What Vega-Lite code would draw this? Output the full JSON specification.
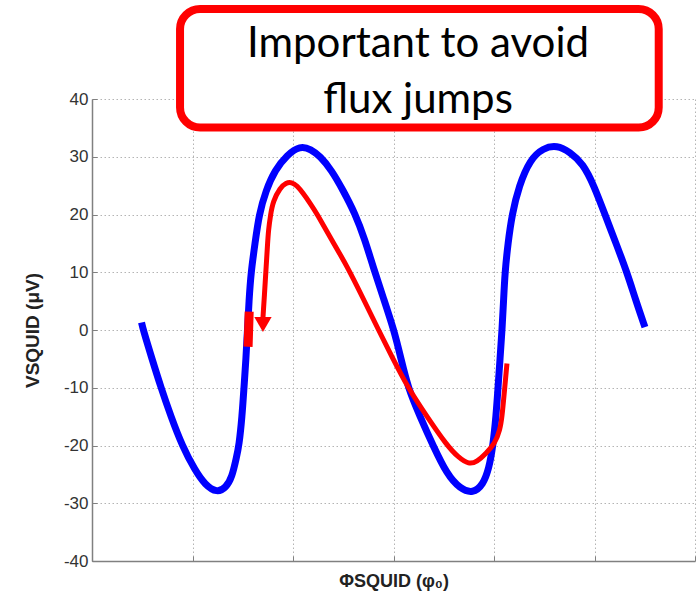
{
  "$schema": "https://vega.github.io/schema/vega-lite/v6.json",
  "width": 603,
  "height": 462,
  "autosize": "none",
  "padding": {"left": 92, "top": 99, "right": 5, "bottom": 39},
  "background": "white",
  "config": {
    "view": {"stroke": null},
    "axis": {
      "grid": true,
      "gridDash": [1.5, 2.5],
      "gridColor": "#b4b4b4",
      "gridWidth": 1,
      "domainColor": "#808080",
      "domainWidth": 1.5,
      "tickColor": "#808080",
      "tickSize": -5,
      "tickWidth": 1,
      "labelFont": "Liberation Sans",
      "labelFontSize": 17,
      "labelColor": "#333333",
      "titleFont": "Liberation Sans",
      "titleFontWeight": "bold",
      "titleColor": "#222222"
    }
  },
  "datasets": {
    "blue": [
      {"x": 0.493, "y": 1.3}, {"x": 0.51, "y": 0}, {"x": 0.597, "y": -5}, {"x": 0.687, "y": -10},
      {"x": 0.786, "y": -15}, {"x": 0.896, "y": -20}, {"x": 1.025, "y": -24.3}, {"x": 1.124, "y": -26.8},
      {"x": 1.244, "y": -28.2}, {"x": 1.333, "y": -27.3}, {"x": 1.393, "y": -25.5}, {"x": 1.438, "y": -22},
      {"x": 1.463, "y": -20}, {"x": 1.493, "y": -15}, {"x": 1.512, "y": -10}, {"x": 1.532, "y": -5},
      {"x": 1.547, "y": 0}, {"x": 1.562, "y": 5}, {"x": 1.582, "y": 10}, {"x": 1.622, "y": 15},
      {"x": 1.662, "y": 20}, {"x": 1.731, "y": 24.2}, {"x": 1.821, "y": 27.7}, {"x": 1.94, "y": 30.3},
      {"x": 2.07, "y": 31.9}, {"x": 2.179, "y": 31.3}, {"x": 2.269, "y": 30.1}, {"x": 2.383, "y": 27.7},
      {"x": 2.498, "y": 24.2}, {"x": 2.617, "y": 20.2}, {"x": 2.716, "y": 15.6}, {"x": 2.796, "y": 11},
      {"x": 2.9, "y": 5.5}, {"x": 3.005, "y": 0}, {"x": 3.075, "y": -5}, {"x": 3.144, "y": -10},
      {"x": 3.264, "y": -15}, {"x": 3.393, "y": -20}, {"x": 3.532, "y": -25}, {"x": 3.662, "y": -27.5},
      {"x": 3.791, "y": -28.3}, {"x": 3.891, "y": -26.8}, {"x": 3.95, "y": -24}, {"x": 3.99, "y": -20},
      {"x": 4.02, "y": -15}, {"x": 4.04, "y": -10}, {"x": 4.06, "y": -5}, {"x": 4.08, "y": 0},
      {"x": 4.095, "y": 5}, {"x": 4.109, "y": 10}, {"x": 4.139, "y": 15}, {"x": 4.179, "y": 20},
      {"x": 4.249, "y": 25}, {"x": 4.358, "y": 29.5}, {"x": 4.488, "y": 31.5}, {"x": 4.627, "y": 32},
      {"x": 4.756, "y": 30.8}, {"x": 4.886, "y": 28.8}, {"x": 4.995, "y": 25}, {"x": 5.104, "y": 20},
      {"x": 5.214, "y": 15}, {"x": 5.323, "y": 10}, {"x": 5.413, "y": 5}, {"x": 5.502, "y": 0.5}
    ],
    "jump": [
      {"x": 1.553, "y": -2.9}, {"x": 1.564, "y": 3.2}
    ],
    "red": [
      {"i": 1, "x": 1.701, "y": 2.1}, {"i": 2, "x": 1.716, "y": 6.1}, {"i": 3, "x": 1.731, "y": 10.4},
      {"i": 4, "x": 1.746, "y": 14.7}, {"i": 5, "x": 1.756, "y": 17.3}, {"i": 6, "x": 1.776, "y": 19.9},
      {"i": 7, "x": 1.801, "y": 22.3}, {"i": 8, "x": 1.871, "y": 24.6}, {"i": 9, "x": 1.93, "y": 25.5},
      {"i": 10, "x": 1.987, "y": 25.6}, {"i": 11, "x": 2.04, "y": 25.0}, {"i": 12, "x": 2.1, "y": 23.7},
      {"i": 13, "x": 2.169, "y": 22.0}, {"i": 14, "x": 2.236, "y": 20.2}, {"i": 15, "x": 2.385, "y": 15.6},
      {"i": 16, "x": 2.54, "y": 11.0}, {"i": 17, "x": 2.697, "y": 5.5}, {"i": 18, "x": 2.851, "y": 0},
      {"i": 19, "x": 2.995, "y": -5}, {"i": 20, "x": 3.144, "y": -10}, {"i": 21, "x": 3.333, "y": -15},
      {"i": 22, "x": 3.532, "y": -20}, {"i": 23, "x": 3.642, "y": -22}, {"i": 24, "x": 3.751, "y": -23.3},
      {"i": 25, "x": 3.831, "y": -22.8}, {"i": 26, "x": 3.92, "y": -21.4}, {"i": 27, "x": 4.01, "y": -19.6},
      {"i": 28, "x": 4.06, "y": -17.3}, {"i": 29, "x": 4.08, "y": -15}, {"i": 30, "x": 4.1, "y": -11.3},
      {"i": 31, "x": 4.129, "y": -5.8}
    ],
    "arrow": [
      {"x": 1.701, "y": 0.95}
    ],
    "note": [
      {"x1": 0.876, "x2": 5.639, "y1": 35.06, "y2": 55.58, "tx": 3.244, "ty": 47.27}
    ]
  },
  "layer": [
    {
      "data": {"name": "blue"},
      "mark": {"type": "line", "color": "#0000ff", "strokeWidth": 7, "interpolate": "basis"},
      "encoding": {
        "x": {
          "field": "x", "type": "quantitative",
          "scale": {"domain": [0, 6], "nice": false, "zero": false},
          "axis": {"values": [0, 1, 2, 3, 4, 5, 6], "labels": false, "title": "ΦSQUID (φ₀)", "titleFontSize": 18, "titlePadding": 11}
        },
        "y": {
          "field": "y", "type": "quantitative",
          "scale": {"domain": [-40, 40], "nice": false, "zero": false},
          "axis": {"values": [-40, -30, -20, -10, 0, 10, 20, 30, 40], "labelExpr": "'' + datum.value", "title": "VSQUID (μV)", "titleFontSize": 19, "titlePadding": 21, "labelPadding": 9}
        }
      }
    },
    {
      "data": {"name": "jump"},
      "mark": {"type": "line", "color": "#ff0000", "strokeWidth": 9},
      "encoding": {
        "x": {"field": "x", "type": "quantitative"},
        "y": {"field": "y", "type": "quantitative"}
      }
    },
    {
      "data": {"name": "red"},
      "mark": {"type": "line", "color": "#ff0000", "strokeWidth": 5, "interpolate": "basis"},
      "encoding": {
        "x": {"field": "x", "type": "quantitative"},
        "y": {"field": "y", "type": "quantitative"},
        "order": {"field": "i", "type": "quantitative"}
      }
    },
    {
      "data": {"name": "arrow"},
      "mark": {"type": "point", "shape": "triangle-down", "filled": true, "color": "#ff0000", "opacity": 1, "size": 300},
      "encoding": {
        "x": {"field": "x", "type": "quantitative"},
        "y": {"field": "y", "type": "quantitative"}
      }
    },
    {
      "data": {"name": "note"},
      "mark": {"type": "rect", "fill": "white", "stroke": "#ff0000", "strokeWidth": 8, "cornerRadius": 20, "clip": false},
      "encoding": {
        "x": {"field": "x1", "type": "quantitative"},
        "x2": {"field": "x2"},
        "y": {"field": "y1", "type": "quantitative"},
        "y2": {"field": "y2"}
      }
    },
    {
      "data": {"name": "note"},
      "mark": {"type": "text", "font": "Lato", "fontSize": 42, "color": "black", "align": "center", "baseline": "alphabetic", "lineHeight": 56, "clip": false},
      "encoding": {
        "x": {"field": "tx", "type": "quantitative"},
        "y": {"field": "ty", "type": "quantitative"},
        "text": {"value": ["Important to avoid", "flux jumps"]}
      }
    }
  ]
}
